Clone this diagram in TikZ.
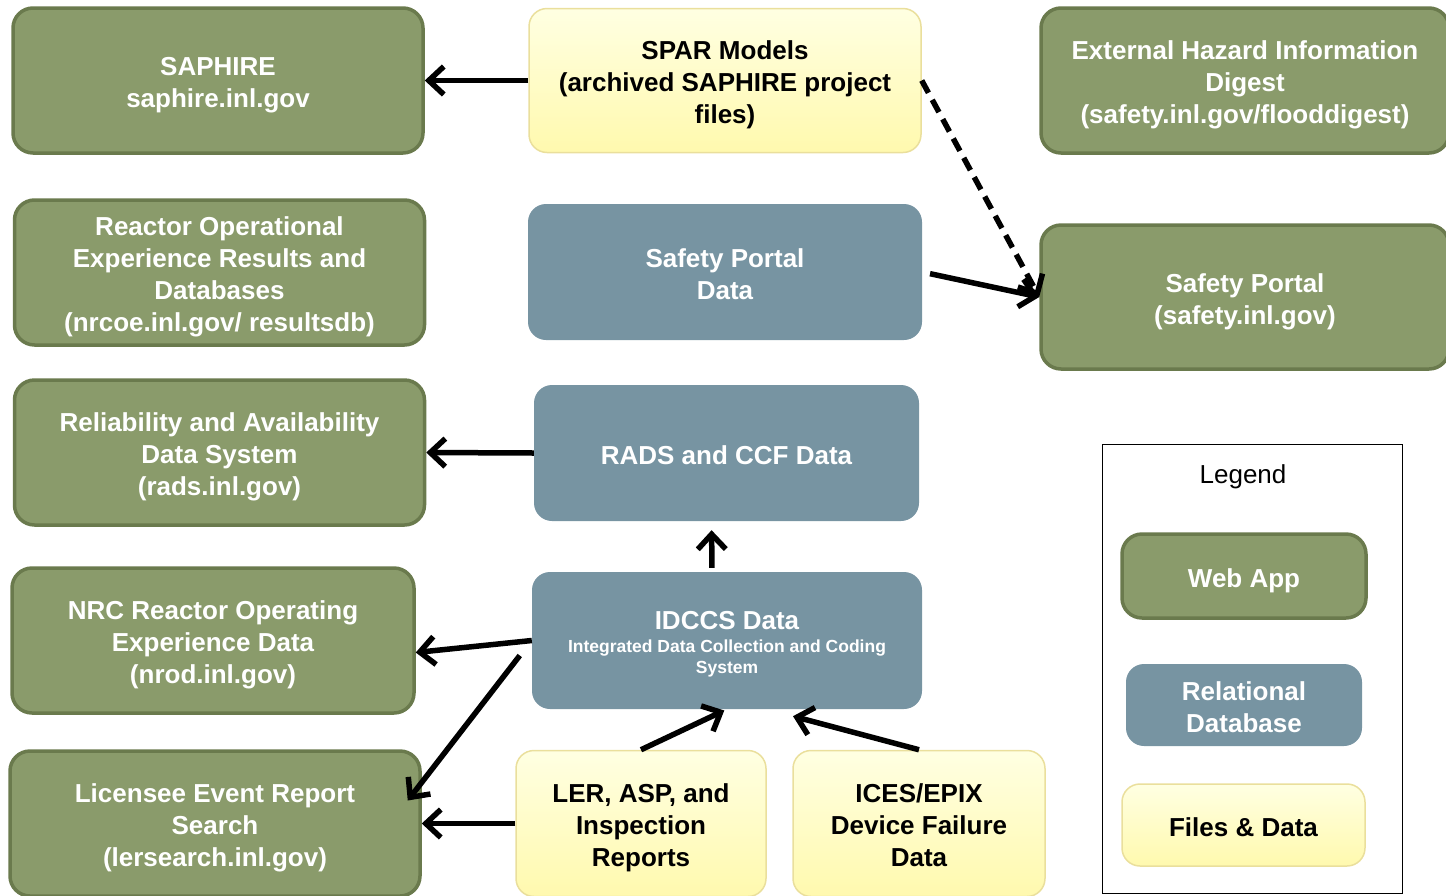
\documentclass[tikz,border=0pt]{standalone}
\usepackage{fontspec}
\setmainfont{Liberation Sans}
\usepackage{tikz}
\usetikzlibrary{arrows.meta,positioning,calc}
\usepackage{xcolor}
\definecolor{webgreen}{HTML}{8A9B6B}
\definecolor{webedge}{HTML}{6A7A4D}
\definecolor{dbblue}{HTML}{7794A2}
\definecolor{filetop}{HTML}{FFFFE2}
\definecolor{filebot}{HTML}{FFF9AE}
\definecolor{fileedge}{HTML}{EADF9C}
\newcommand{\smalltxt}[1]{{\fontsize{17.5}{21}\selectfont #1}}

\begin{document}
\begin{tikzpicture}[x=1pt, y=-1pt,
    boxfont/.style={font=\bfseries\fontsize{26}{32}\selectfont, align=flush center, inner sep=0pt,
        execute at begin node={\rule{0pt}{28pt}}, execute at end node={\rule[-6pt]{0pt}{6pt}}},
    webbox/.style={boxfont, draw=webedge, line width=3.5pt, fill=webgreen, rounded corners=20pt,
        text=white, text width=390pt, minimum width=410pt, minimum height=145pt},
    dbbox/.style={boxfont, fill=dbblue, rounded corners=18pt, text=white,
        text width=380pt, minimum width=390pt, minimum height=136pt},
    filebox/.style={boxfont, draw=fileedge, line width=1.5pt, top color=filetop, bottom color=filebot,
        rounded corners=18pt, text=black, text width=380pt, minimum width=392pt, minimum height=144pt},
    seta/.style={line width=5.5pt, -{Straight Barb[length=15pt, width=28pt]}},
]
    % Moldura da figura
    \useasboundingbox (0,0) rectangle (1446,895);
    % Aplicacoes web (verde)
    \node[webbox] (saphire) at (218,80.5) {SAPHIRE\\saphire.inl.gov};
    \node[webbox] (rcoe) at (219.5,272.5) {Reactor Operational\\Experience Results and\\Databases\\(nrcoe.inl.gov/ resultsdb)};
    \node[webbox] (rads) at (219.5,452.5) {Reliability and Availability\\Data System\\(rads.inl.gov)};
    \node[webbox, minimum width=402pt] (nrod) at (213,640.5) {NRC Reactor Operating\\Experience Data\\(nrod.inl.gov)};
    \node[webbox] (lersearch) at (215,823.5) {Licensee Event Report\\Search\\(lersearch.inl.gov)};
    \node[webbox, minimum width=408pt] (digest) at (1245,80.5) {External Hazard Information\\Digest\\(safety.inl.gov/flooddigest)};
    \node[webbox, minimum width=408pt, minimum height=144pt] (portal) at (1245,297) {Safety Portal\\(safety.inl.gov)};
    % Bases relacionais (azul)
    \node[dbbox, minimum width=394pt] (spdata) at (725,272) {Safety Portal\\Data};
    \node[dbbox, minimum width=385pt] (radsdata) at (726.5,453) {RADS and CCF Data};
    \node[dbbox, minimum height=137pt] (idccs) at (727,640.5)
        {IDCCS Data\\[-9pt]\smalltxt{Integrated Data Collection and Coding}\\[-11pt]\smalltxt{System}};
    % Arquivos e dados (amarelo)
    \node[filebox] (spar) at (725,80.5) {SPAR Models\\(archived SAPHIRE project\\files)};
    \node[filebox, text width=230pt, minimum width=250pt, minimum height=146pt] (ler) at (641,823.5) {LER, ASP, and\\Inspection\\Reports};
    \node[filebox, text width=230pt, minimum width=252pt, minimum height=146pt] (ices) at (919,823.5) {ICES/EPIX\\Device Failure\\Data};
    % Setas
    \draw[seta] (spar.west) -- (saphire.east);
    \draw[seta, dash pattern=on 14pt off 8pt] (spar.east) -- (portal.west);
    \draw[seta, shorten <=8pt] (spdata.east) -- (portal.west);
    \draw[seta] (radsdata.west) -- (rads.east);
    \draw[seta, shorten <=4pt, shorten >=9pt] ([xshift=-15pt]idccs.north) -- ([xshift=-15pt]radsdata.south);
    \draw[seta] (idccs.west) -- ([yshift=-12pt]nrod.east);
    \draw[seta] ([xshift=-12pt, yshift=-15pt]idccs.west) -- ([xshift=-14pt, yshift=23pt]lersearch.east);
    \draw[seta] (ler.west) -- (lersearch.east);
    \draw[seta, shorten >=3pt] (ler.north) -- (idccs.south);
    \draw[seta] (ices.north) -- ([xshift=66pt, yshift=-7pt]idccs.south);
    % Legenda
    \node[draw, line width=1pt, minimum width=300pt, minimum height=449pt, inner sep=0pt] (legend) at (1252,668.5) {};
    \node[font=\fontsize{26}{32}\selectfont] (legendtitle) at (1243,477) {Legend};
    \node[webbox, text width=220pt, minimum width=244pt, minimum height=84pt] (keyweb) at (1244,576) {Web App};
    \node[dbbox, text width=220pt, minimum width=236pt, minimum height=82pt] (keydb) at (1244,705) {Relational\\Database};
    \node[filebox, text width=220pt, minimum width=243pt, minimum height=82pt] (keyfile) at (1243.5,825) {Files \& Data};
\end{tikzpicture}
\end{document}
